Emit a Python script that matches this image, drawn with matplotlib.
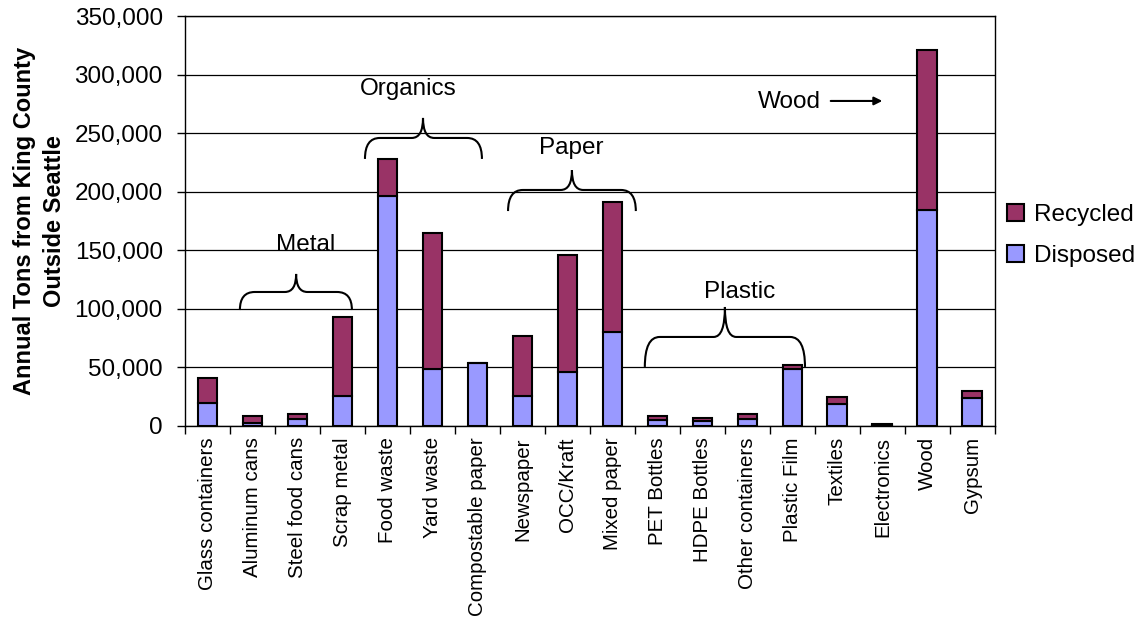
import numpy as np
import matplotlib.pyplot as plt
from matplotlib.path import Path
from matplotlib.patches import PathPatch
from matplotlib.ticker import FuncFormatter

plt.rcParams['font.family'] = ['Liberation Sans', 'DejaVu Sans']

categories = ['Glass containers', 'Aluminum cans', 'Steel food cans', 'Scrap metal',
              'Food waste', 'Yard waste', 'Compostable paper', 'Newspaper', 'OCC/Kraft',
              'Mixed paper', 'PET Bottles', 'HDPE Bottles', 'Other containers',
              'Plastic Film', 'Textiles', 'Electronics', 'Wood', 'Gypsum']
disposed = [19600, 2500, 6000, 25500, 196600, 48500, 53600, 25500, 46000,
            80000, 5500, 4000, 6000, 48500, 19000, 500, 184400, 23600]
recycled = [21200, 6000, 4000, 67300, 31400, 116500, 0, 51100, 100400,
            111500, 2800, 2500, 4000, 3500, 5700, 1000, 136600, 6500]

# groups: label, left end, right end, tip x, end y, mid y, tip y, label x, label y
groups = [
    ('Metal',    0.72, 3.21, 1.97,  99000, 114400, 129800, 2.19, 154500),
    ('Organics', 3.50, 6.10, 4.79, 228000, 245900, 263000, 4.46, 287700),
    ('Paper',    6.68, 9.52, 8.10, 183500, 201500, 218500, 8.08, 237300),
    ('Plastic',  9.72, 13.28, 11.50, 50400, 76000, 101600, 11.83, 114400),
]

c_rec = '#993366'
c_dis = '#9999ff'


def brace(ax, x0, x1, xt, y_end, y_mid, y_tip, r=0.33, rt=0.25):
    verts = [(x0, y_end), (x0, y_mid), (x0 + r, y_mid),
             (xt - rt, y_mid),
             (xt, y_mid), (xt, y_tip),
             (xt, y_mid), (xt + rt, y_mid),
             (x1 - r, y_mid),
             (x1, y_mid), (x1, y_end)]
    codes = [Path.MOVETO, Path.CURVE3, Path.CURVE3,
             Path.LINETO,
             Path.CURVE3, Path.CURVE3,
             Path.CURVE3, Path.CURVE3,
             Path.LINETO,
             Path.CURVE3, Path.CURVE3]
    ax.add_patch(PathPatch(Path(verts, codes), fill=False, lw=1.5,
                           edgecolor='black', capstyle='butt', zorder=4))


fig = plt.figure(figsize=(11.37, 6.17), dpi=100)
ax = fig.add_axes([0.1627, 0.3096, 0.7123, 0.6644])

x = np.arange(len(categories))
w = 0.44
ax.bar(x, disposed, w, color=c_dis, edgecolor='black', lw=1.5, label='Disposed', zorder=3)
ax.bar(x, recycled, w, bottom=disposed, color=c_rec, edgecolor='black', lw=1.5,
       label='Recycled', zorder=3)

ax.set_xlim(-0.5, len(categories) - 0.5)
ax.set_ylim(0, 350000)
ax.set_yticks(np.arange(0, 350001, 50000))
ax.yaxis.set_major_formatter(FuncFormatter(lambda v, p: f'{int(v):,}'))
ax.grid(axis='y', color='black', lw=0.9, zorder=0)

ax.set_xticks(x)
ax.set_xticklabels(categories, rotation=90, fontsize=14.8)
ax.set_xticks(np.arange(-0.5, len(categories), 1), minor=True)
ax.tick_params(axis='x', which='major', length=0, pad=8)
ax.tick_params(axis='x', which='minor', length=6, width=1, direction='out')
ax.tick_params(axis='y', labelsize=17.5, length=6, width=1, direction='out', pad=10)

for sp in ax.spines.values():
    sp.set_linewidth(1)
    sp.set_color('black')

ax.set_ylabel('Annual Tons from King County\nOutside Seattle', fontsize=17,
              fontweight='bold', labelpad=6, linespacing=1.4)

for name, x0, x1, xt, ye, ym, yt, lx, ly in groups:
    brace(ax, x0, x1, xt, ye, ym, yt)
    ax.text(lx, ly, name, ha='center', va='center', fontsize=17.5)

ax.text(12.94, 276600, 'Wood', ha='center', va='center', fontsize=17.5)
ax.annotate('', xy=(15.06, 277500), xytext=(13.79, 277500),
            arrowprops=dict(arrowstyle='-|>', color='black', lw=1.5, mutation_scale=12))

handles, labels = ax.get_legend_handles_labels()
ax.legend(handles[::-1], labels[::-1], loc='center left', bbox_to_anchor=(1.0, 0.465),
          frameon=False, fontsize=17.5, handlelength=0.7, handleheight=0.7,
          handletextpad=0.4, labelspacing=0.8, borderaxespad=0.1)

fig.savefig('out.png', dpi=100)
